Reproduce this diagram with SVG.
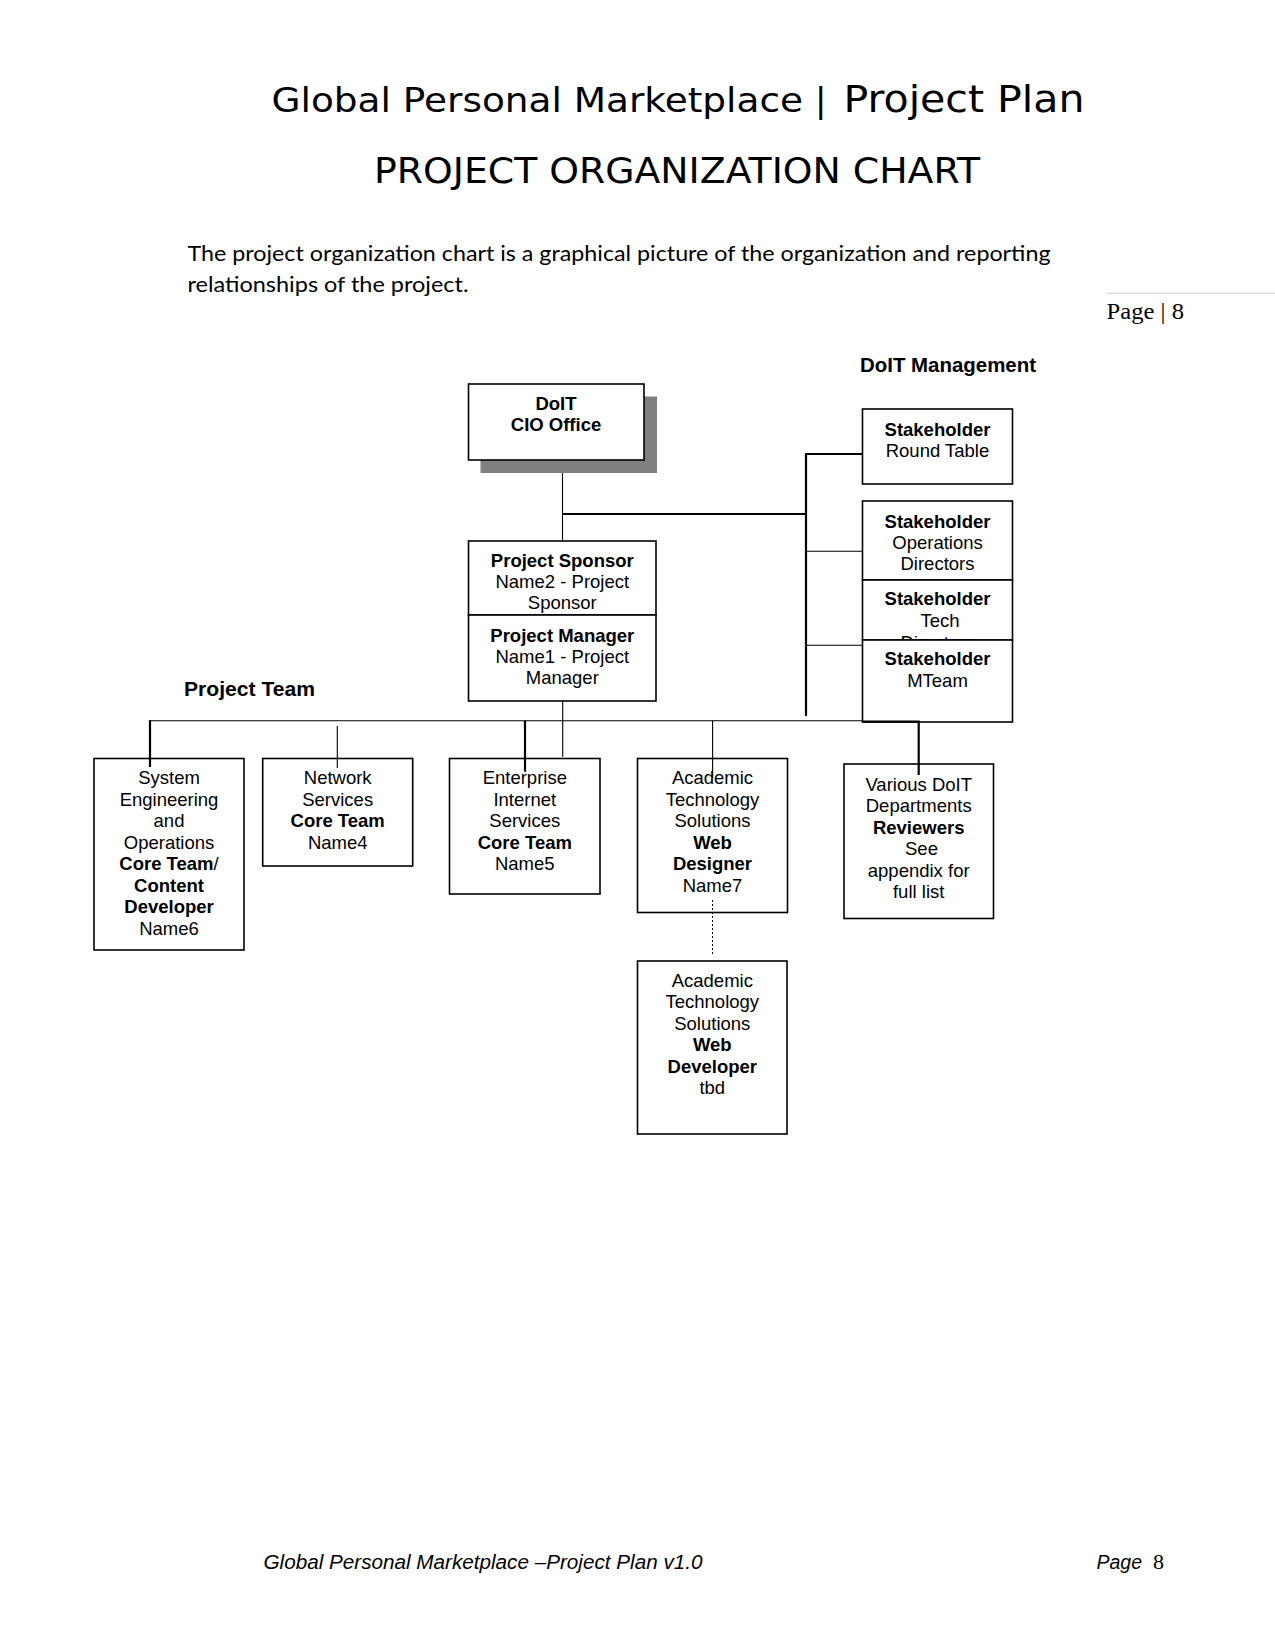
<svg xmlns="http://www.w3.org/2000/svg" width="1275" height="1650" viewBox="0 0 1275 1650">
<style>
.box{fill:#fff;stroke:#000;stroke-width:1.6}
.shadow{fill:#808080;stroke:none}
.t{font-family:"Liberation Sans",Arial,sans-serif;font-size:18.5px;fill:#000;text-anchor:middle}
.b{font-weight:bold}
.lbl{font-family:"Liberation Sans",Arial,sans-serif;font-size:20px;font-weight:bold;fill:#000}
.thin{stroke:#000;stroke-width:1.1;fill:none}
.thick{stroke:#000;stroke-width:2.2;fill:none}
.dot{stroke:#000;stroke-width:1;stroke-dasharray:2,2;fill:none}
.title{font-family:"DejaVu Sans",Verdana,sans-serif;fill:#000}
.para{font-family:Lato,"Open Sans",sans-serif;font-size:20.5px;fill:#000}
</style>
<rect width="1275" height="1650" fill="#fff"/>

<g id="header">
<text class="title" x="271.5" y="112" font-size="34" textLength="531.5" lengthAdjust="spacingAndGlyphs">Global Personal Marketplace</text>
<text class="title" x="815" y="112" font-size="34">|</text>
<text class="title" x="843.5" y="112" font-size="37.5" textLength="241" lengthAdjust="spacingAndGlyphs">Project Plan</text>
<text class="title" x="374" y="183" font-size="36" textLength="606" lengthAdjust="spacingAndGlyphs">PROJECT ORGANIZATION CHART</text>
<text class="para" x="187.5" y="261" textLength="863" lengthAdjust="spacingAndGlyphs">The project organization chart is a graphical picture of the organization and reporting</text>
<text class="para" x="187.5" y="291.5" textLength="281" lengthAdjust="spacingAndGlyphs">relationships of the project.</text>
<line x1="1106" y1="293.3" x2="1275" y2="293.3" stroke="#d9d9d9" stroke-width="1.2"/>
<text x="1106.5" y="319" font-family="'Liberation Serif',serif" font-size="23.5" textLength="77.5" lengthAdjust="spacingAndGlyphs">Page | 8</text>
</g>

<g id="labels">
<text class="lbl" x="860" y="371.5" textLength="176" lengthAdjust="spacingAndGlyphs">DoIT Management</text>
<text class="lbl" x="184" y="696" textLength="131" lengthAdjust="spacingAndGlyphs">Project Team</text>
</g>

<g id="node-cio">
<rect class="shadow" x="480.5" y="396.5" width="176.5" height="76.5"/>
<rect class="box" x="468.5" y="384" width="175.5" height="76"/>
<text class="t b" x="556" y="410">DoIT</text>
<text class="t b" x="556" y="431">CIO Office</text>
</g>

<g id="node-sponsor">
<rect class="box" x="468.5" y="541" width="187.5" height="74"/>
<text class="t b" x="562.3" y="566.5">Project Sponsor</text>
<text class="t" x="562.3" y="587.5">Name2 - Project</text>
<text class="t" x="562.3" y="609">Sponsor</text>
</g>

<g id="node-manager">
<rect class="box" x="468.5" y="615" width="187.5" height="86"/>
<text class="t b" x="562.3" y="641.5">Project Manager</text>
<text class="t" x="562.3" y="662.5">Name1 - Project</text>
<text class="t" x="562.3" y="684">Manager</text>
</g>

<g id="node-roundtable">
<rect class="box" x="862.5" y="409" width="150" height="75"/>
<text class="t b" x="937.5" y="435.5">Stakeholder</text>
<text class="t" x="937.5" y="456.5">Round Table</text>
</g>

<g id="node-ops">
<rect class="box" x="862.5" y="501" width="150" height="79"/>
<text class="t b" x="937.5" y="528">Stakeholder</text>
<text class="t" x="937.5" y="548.5">Operations</text>
<text class="t" x="937.5" y="570">Directors</text>
</g>

<g id="node-tech">
<rect class="box" x="862.5" y="580" width="150" height="60"/>
<text class="t b" x="937.5" y="605">Stakeholder</text>
<text class="t" x="940" y="627">Tech</text>
<text class="t" x="937.5" y="648.5">Directors</text>
</g>

<g id="node-mteam">
<rect class="box" x="862.5" y="640" width="150" height="82"/>
<text class="t b" x="937.5" y="665">Stakeholder</text>
<text class="t" x="937.5" y="687">MTeam</text>
</g>

<g id="node-system">
<rect class="box" x="94" y="758.5" width="150" height="191.5"/>
<text class="t" x="169" y="784">System</text>
<text class="t" x="169" y="805.5">Engineering</text>
<text class="t" x="169" y="827">and</text>
<text class="t" x="169" y="848.5">Operations</text>
<text class="t b" x="169" y="870">Core Team<tspan font-weight="normal">/</tspan></text>
<text class="t b" x="169" y="891.5">Content</text>
<text class="t b" x="169" y="913">Developer</text>
<text class="t" x="169" y="934.5">Name6</text>
</g>

<g id="node-network">
<rect class="box" x="262.7" y="758.5" width="150" height="107.5"/>
<text class="t" x="337.7" y="784">Network</text>
<text class="t" x="337.7" y="805.5">Services</text>
<text class="t b" x="337.7" y="827">Core Team</text>
<text class="t" x="337.7" y="848.5">Name4</text>
</g>

<g id="node-enterprise">
<rect class="box" x="449.5" y="758.5" width="150.5" height="135.5"/>
<text class="t" x="524.8" y="784">Enterprise</text>
<text class="t" x="524.8" y="805.5">Internet</text>
<text class="t" x="524.8" y="827">Services</text>
<text class="t b" x="524.8" y="848.5">Core Team</text>
<text class="t" x="524.8" y="870">Name5</text>
</g>

<g id="node-webdesigner">
<rect class="box" x="637.5" y="758.5" width="150" height="154"/>
<text class="t" x="712.5" y="784">Academic</text>
<text class="t" x="712.5" y="805.5">Technology</text>
<text class="t" x="712.5" y="827">Solutions</text>
<text class="t b" x="712.5" y="848.5">Web</text>
<text class="t b" x="712.5" y="870">Designer</text>
<text class="t" x="712.5" y="891.5">Name7</text>
</g>

<g id="node-reviewers">
<rect class="box" x="844" y="764" width="149.5" height="154.5"/>
<text class="t" x="918.7" y="790.5">Various DoIT</text>
<text class="t" x="918.7" y="812">Departments</text>
<text class="t b" x="918.7" y="833.5">Reviewers</text>
<text class="t" x="921.5" y="855">See</text>
<text class="t" x="918.7" y="876.5">appendix for</text>
<text class="t" x="918.7" y="898">full list</text>
</g>

<g id="node-webdeveloper">
<rect class="box" x="637.5" y="961" width="149.5" height="173"/>
<text class="t" x="712.3" y="986.5">Academic</text>
<text class="t" x="712.3" y="1008">Technology</text>
<text class="t" x="712.3" y="1029.5">Solutions</text>
<text class="t b" x="712.3" y="1051">Web</text>
<text class="t b" x="712.3" y="1072.5">Developer</text>
<text class="t" x="712.3" y="1094">tbd</text>
</g>

<g id="connectors">
<line class="thin" x1="562.5" y1="473" x2="562.5" y2="541"/>
<line class="thick" x1="562.5" y1="514" x2="806" y2="514"/>
<line class="thick" x1="806" y1="453" x2="806" y2="716"/>
<line class="thick" x1="805" y1="454" x2="862.5" y2="454"/>
<line class="thin" x1="806" y1="551.3" x2="862.5" y2="551.3"/>
<line class="thin" x1="806" y1="645.3" x2="862.5" y2="645.3"/>
<line class="thin" x1="562.7" y1="701" x2="562.7" y2="756.7"/>
<line class="thin" x1="149" y1="720.7" x2="862.7" y2="720.7"/>
<line class="thick" x1="862.7" y1="721.6" x2="919.8" y2="721.6"/>
<line class="thick" x1="150" y1="720" x2="150" y2="767"/>
<line class="thin" x1="337.3" y1="726" x2="337.3" y2="768"/>
<line class="thick" x1="525" y1="720.7" x2="525" y2="771.7"/>
<line class="thin" x1="712.6" y1="720.7" x2="712.6" y2="778"/>
<line class="thick" x1="918.7" y1="721" x2="918.7" y2="775"/>
<line class="dot" x1="712.5" y1="900" x2="712.5" y2="956"/>
</g>

<g id="footer">
<text x="263.5" y="1568.5" font-family="'Liberation Sans',Arial,sans-serif" font-style="italic" font-size="19.5" textLength="439" lengthAdjust="spacingAndGlyphs">Global Personal Marketplace –Project Plan v1.0</text>
<text x="1096.5" y="1568.5" font-family="'Liberation Sans',Arial,sans-serif" font-style="italic" font-size="19.5">Page</text>
<text x="1153" y="1568.5" font-family="'Liberation Serif',serif" font-size="22">8</text>
</g>
</svg>
